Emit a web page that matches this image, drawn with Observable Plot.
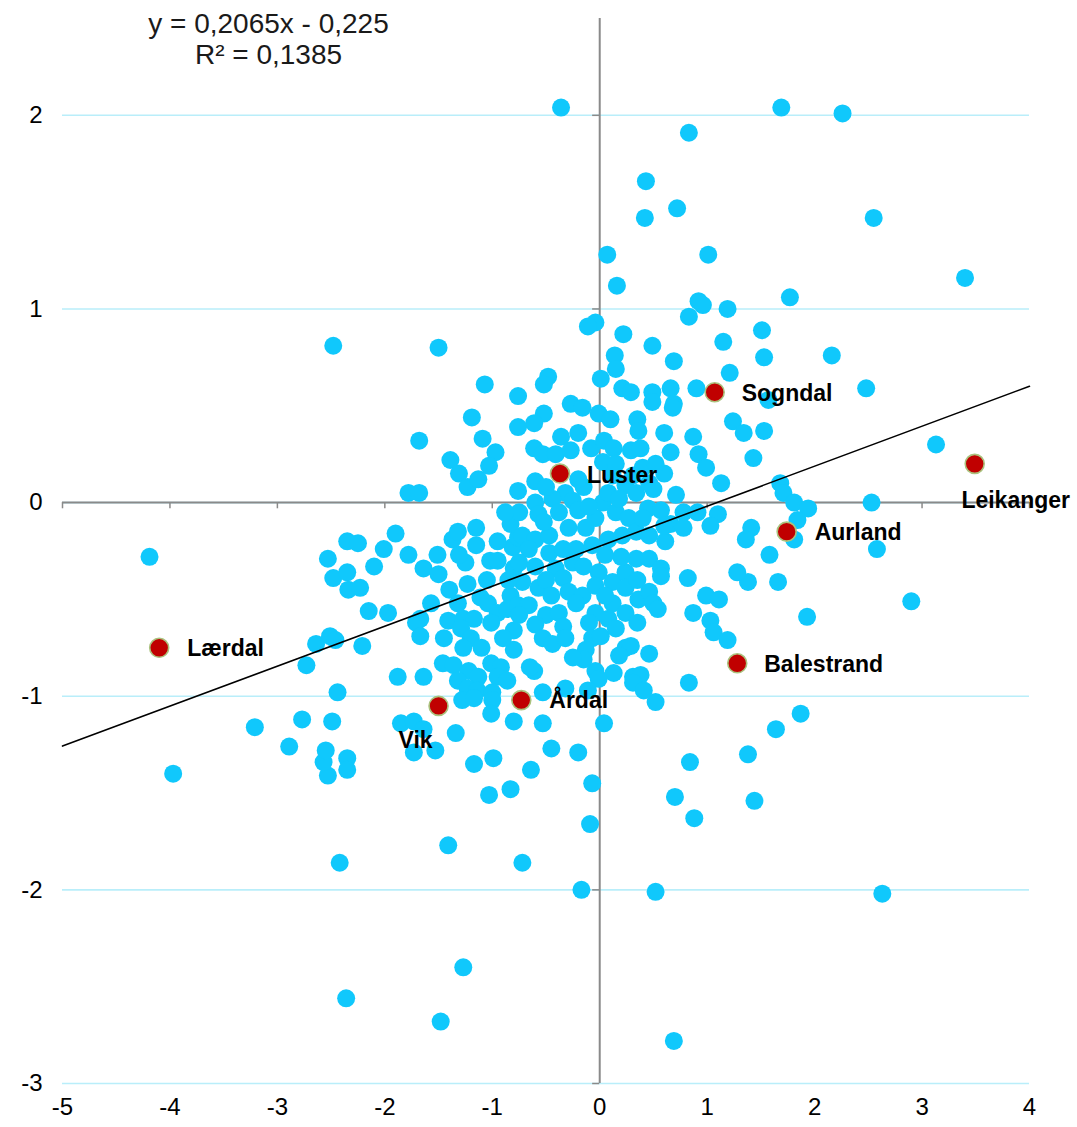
<!DOCTYPE html>
<html>
<head>
<meta charset="utf-8">
<script src="https://cdn.jsdelivr.net/npm/d3@7"></script>
<script src="https://cdn.jsdelivr.net/npm/@observablehq/plot@0.6"></script>
<style>
html, body { margin: 0; padding: 0; background: #fff; overflow: hidden; }
#chart svg { display: block; }
</style>
</head>
<body>
<div id="chart"></div>
<script>
// ---- data ----
const otherX = [
  -0.36, 1.69, 2.26, 0.83, 0.43, 0.72, 0.42, 2.55, 0.07, 1.01,
  3.40, 0.16, 1.77, 0.92, 0.96, 1.19, 0.83, -0.04, -0.11, 1.51,
  0.22, 1.15, -2.48, -1.50, 0.49, 0.14, 1.53, 2.16, 0.69, 0.15,
  1.21, -0.48, -0.52, 0.01, -1.07, 2.48, 0.21, 0.29, 0.90, 0.66,
  0.49, -0.76, 0.69, 0.49, 1.57, 0.68, -0.27, -0.16, -0.01, 0.10,
  -0.52, -0.61, -1.19, 0.35, 1.24, 1.34, 1.53, 0.36, -0.76, -0.20,
  -0.36, 0.60, 0.87, -1.09, -0.97, -1.68, 3.13, -0.08, 0.04, 0.13,
  0.29, 0.38, -0.61, -0.53, -0.41, -0.27, 0.66, 0.92, -1.39, -1.31,
  -1.23, -1.13, -1.03, 0.99, 1.43, 1.13, 1.68, 1.71, -1.78, -1.68,
  -0.76, 2.53, 1.81, 1.94, 1.84, 1.81, 1.41, 1.36, 2.58, 1.58,
  1.38, 1.66, 1.28, 0.82, 2.90, 1.93, 0.99, 1.11, 0.87, 1.03,
  1.06, 1.19, 0.83, 0.52, 1.87, 1.64, 1.38, 0.84, 1.44, 0.70,
  0.88, 2.63, 0.52, -0.17, 0.69, -1.48, -2.36, -1.27, -2.42, -1.41,
  -0.72, -0.09, -0.07, -3.97, -4.19, -3.21, -2.89, -2.77, -2.53, -2.57,
  -2.55, -2.35, -2.35, -2.49, -2.44, -2.73, -2.64, -2.51, -2.46, -2.21,
  -2.53, -2.48, -2.35, -2.35, -2.25, -2.34, -2.23, -2.10, -2.15, -2.01,
  -1.90, -1.97, -1.78, -1.64, -1.50, -1.51, -1.37, -1.32, -1.15, -1.15,
  -1.25, -1.31, -1.02, -0.95, -0.81, -0.76, -0.80, -0.83, -1.23, -1.11,
  -1.32, -1.57, -1.67, -1.41, -1.27, -1.17, -1.04, -0.95, -1.01, -0.86,
  -0.76, -0.83, -0.60, -0.32, -0.25, -0.44, -0.60, -0.75, -0.57, -0.38,
  -0.20, -0.04, 0.03, 0.08, 0.03, 0.12, 0.24, 0.34, 0.31, 0.46,
  0.15, 0.27, 0.45, -0.72, -0.60, -0.47, -0.29, -0.13, -0.66, -0.47,
  -0.34, -0.22, -0.07, 0.08, 0.21, 0.34, 0.46, -0.75, -0.60, -0.41,
  -0.25, -0.72, -0.57, -0.34, -0.29, -0.16, -0.01, -0.04, 0.12, 0.24,
  0.34, 0.46, 0.24, 0.36, 0.46, -0.66, -0.50, -0.38, -0.22, -0.04,
  0.12, 0.24, 0.08, -0.10, -0.75, 0.60, 0.50, 0.71, 0.57, 0.78,
  0.91, 1.10, 0.66, 0.78, 1.03, 0.61, 0.57, 0.57, 0.50, 0.54,
  -1.71, -1.67, -1.29, -1.20, -1.27, -0.80, -0.80, -1.88, -1.64, -1.46,
  -1.36, -1.22, -1.13, -1.32, -1.23, -1.14, -1.28, -1.17, -1.01, -0.92,
  -0.95, -0.86, -1.00, -1.00, -1.01, -0.80, -1.85, -1.73, -1.64, -1.34,
  -1.73, -1.53, -1.17, -0.99, -1.03, -0.83, -0.60, -0.34, -0.53, -0.44,
  -0.32, -0.07, 0.01, -0.13, -0.15, 0.24, 0.29, 0.18, 0.46, -0.61,
  -0.04, 0.13, -0.01, 0.31, 0.38, 0.31, 0.41, -0.53, -0.32, -0.11,
  -0.53, 0.04, -0.45, -0.20, -0.64,
  -0.50, -0.15, 0.18, 0.40, -0.52, -0.10, 0.15, 0.40, 0.20, -0.15,
  -0.50, 0.05, -0.85, -0.45, 0.05, 0.35, -0.88, -0.95, 0.52, -1.05,
  -1.40, -1.45, -1.10, -0.65, 0.15, -0.25, 0.35, -0.20, 0.60, -0.90
];
const otherY = [
  2.04, 2.04, 2.01, 1.91, 1.66, 1.52, 1.47, 1.47, 1.28, 1.28,
  1.16, 1.12, 1.06, 1.04, 1.02, 1.00, 0.96, 0.93, 0.91, 0.89,
  0.87, 0.83, 0.81, 0.80, 0.81, 0.76, 0.75, 0.76, 0.73, 0.69,
  0.67, 0.65, 0.61, 0.64, 0.61, 0.59, 0.59, 0.57, 0.59, 0.59,
  0.57, 0.55, 0.51, 0.52, 0.53, 0.49, 0.51, 0.49, 0.46, 0.43,
  0.46, 0.41, 0.44, 0.43, 0.42, 0.36, 0.37, 0.37, 0.39, 0.36,
  0.34, 0.36, 0.34, 0.33, 0.26, 0.32, 0.30, 0.28, 0.32, 0.28,
  0.27, 0.28, 0.28, 0.25, 0.25, 0.27, 0.26, 0.25, 0.22, 0.15,
  0.08, 0.12, 0.19, 0.18, 0.23, 0.10, 0.10, 0.05, 0.05, 0.05,
  0.06, 0.00, 0.00, -0.03, -0.09, -0.19, -0.13, -0.19, -0.24, -0.27,
  -0.41, -0.41, -0.36, -0.39, -0.51, -0.59, -0.48, -0.50, -0.57, -0.61,
  -0.67, -0.71, -0.93, -1.03, -1.09, -1.17, -1.30, -1.34, -1.54, -1.52,
  -1.63, -2.02, -2.01, -2.00, -2.78, -2.68, -2.56, -2.40, -1.86, -1.77,
  -1.86, -1.66, -1.45, -1.40, -0.28, -1.16, -1.26, -1.12, -1.41, -1.34,
  -1.28, -1.32, -1.38, -1.13, -0.98, -0.84, -0.73, -0.69, -0.71, -0.74,
  -0.29, -0.39, -0.36, -0.20, -0.21, -0.45, -0.44, -0.33, -0.56, -0.24,
  -0.16, -0.57, -0.27, -0.34, -0.37, -0.27, -0.19, -0.15, -0.13, -0.22,
  -0.31, -0.27, -0.30, -0.30, -0.23, -0.18, -0.34, -0.48, -0.42, -0.49,
  -0.52, -0.52, -0.60, -0.61, -0.60, -0.60, -0.52, -0.57, -0.62, -0.55,
  -0.53, -0.11, 0.11, 0.05, 0.01, 0.02, 0.00, -0.05, -0.06, -0.05,
  -0.04, -0.08, 0.00, 0.05, 0.21, 0.14, 0.09, 0.05, 0.14, 0.10,
  -0.05, -0.08, -0.03, -0.17, -0.19, -0.17, -0.13, -0.13, -0.24, -0.26,
  -0.24, -0.24, -0.22, -0.19, -0.17, -0.15, -0.17, -0.31, -0.33, -0.34,
  -0.31, -0.41, -0.44, -0.39, -0.46, -0.48, -0.36, -0.43, -0.41, -0.36,
  -0.29, -0.29, -0.44, -0.50, -0.46, -0.53, -0.58, -0.57, -0.52, -0.57,
  -0.52, -0.57, -0.60, -0.62, -0.58, 0.15, 0.07, 0.04, -0.04, -0.05,
  -0.05, -0.06, -0.11, -0.13, -0.12, -0.20, -0.34, -0.38, -0.52, -0.55,
  -0.62, -0.69, -0.65, -0.70, -0.75, -0.66, -0.76, -0.90, -0.90, -0.83,
  -0.84, -0.87, -0.90, -0.92, -0.96, -0.97, -1.02, -1.01, -0.83, -0.85,
  -0.90, -0.92, -0.98, -1.02, -1.09, -1.13, -1.14, -1.13, -1.17, -1.19,
  -1.29, -1.28, -1.35, -1.32, -1.51, -1.48, -0.63, -0.64, -0.70, -0.73,
  -0.70, -0.70, -0.69, -0.76, -0.81, -0.75, -0.74, -0.79, -0.78, -0.87,
  -0.87, -0.88, -0.91, -0.90, -0.89, -0.93, -0.97, -0.98, -0.96, -0.97,
  -1.14, -1.14, -1.27, -1.29, -1.38,
  0.08, 0.08, 0.02, -0.08, -0.10, -0.02, 0.20, 0.18, -0.28, -0.33,
  -0.40, -0.27, -0.40, -0.48, -0.48, -0.40, -0.05, -0.20, 0.20, -0.40,
  -0.45, -0.70, -0.75, -0.85, -0.65, -0.80, -0.62, 0.12, -0.12, -0.70
];
const namedLabels = ["Sogndal", "Luster", "Leikanger", "Aurland", "Lærdal", "Balestrand", "Årdal", "Vik"];
const namedX = [1.07, -0.37, 3.49, 1.74, -4.10, 1.28, -0.73, -1.50];
const namedY = [0.57, 0.15, 0.20, -0.15, -0.75, -0.83, -1.02, -1.05];
const xTicks = [-5, -4, -3, -2, -1, 0, 1, 2, 3, 4];
const yTicks = [-3, -2, -1, 0, 1, 2];
const trendSlope = 0.2065;
const trendIntercept = -0.225;
const trendXRange = [-5, 4];
const equationLines = ["y = 0,2065x - 0,225", "R\u00B2 = 0,1385"];

// ---- styles (kept apart from the data) ----
const FONT = "Liberation Sans, Arial, Helvetica, sans-serif";
const labelPlacement = {
  "Sogndal":   {dx: 27, dy: 1, anchor: "start"},
  "Luster":    {dx: 27, dy: 2, anchor: "start"},
  "Leikanger": {dx: 41, dy: 37, anchor: "middle"},
  "Aurland":   {dx: 28, dy: 1, anchor: "start"},
  "Lærdal":    {dx: 28, dy: 1, anchor: "start"},
  "Balestrand":{dx: 27, dy: 1, anchor: "start"},
  "Årdal":     {dx: 28, dy: 1, anchor: "start"},
  "Vik":       {dx: -23, dy: 35, anchor: "middle"}
};

const otherIdx = d3.range(otherX.length);

const chart = Plot.plot({
  width: 1077,
  height: 1127,
  marginLeft: 62,
  marginRight: 48,
  marginTop: 18,
  marginBottom: 44,
  style: {fontFamily: FONT, background: "#fff"},
  x: {domain: [-5, 4], axis: null},
  y: {domain: [-3, 2.5], axis: null},
  marks: [
    Plot.ruleY(yTicks, {y: d => d, stroke: "#b9eefa", strokeWidth: 1.6}),
    Plot.ruleY([0], {stroke: "#8a8a8a", strokeWidth: 2}),
    Plot.ruleX([0], {stroke: "#8a8a8a", strokeWidth: 2}),
    Plot.ruleX(xTicks, {x: d => d, y1: 0, y2: -0.032, stroke: "#8a8a8a", strokeWidth: 1.5}),
    Plot.ruleY(yTicks, {y: d => d, x1: -0.066, x2: 0, stroke: "#8a8a8a", strokeWidth: 1.5}),
    Plot.text(xTicks, {x: d => d, text: d => String(d), frameAnchor: "bottom", dy: 31,
      fontSize: 24, fill: "#000", fontFamily: FONT}),
    Plot.text(yTicks, {y: d => d, text: d => String(d), frameAnchor: "left", dx: -20,
      textAnchor: "end", fontSize: 24, fill: "#000", fontFamily: FONT}),
    Plot.dot(otherIdx, {x: i => otherX[i], y: i => otherY[i], r: 9, fill: "#10c8fc"}),
    Plot.line(trendXRange, {x: d => d, y: d => trendSlope * d + trendIntercept,
      stroke: "#000", strokeWidth: 1.6}),
    Plot.dot(d3.range(namedX.length), {x: i => namedX[i], y: i => namedY[i], r: 9.5,
      fill: "#c00000", stroke: "#aac27e", strokeWidth: 1.6}),
    ...namedLabels.map((name, i) => Plot.text([i], {
      x: j => namedX[j], y: j => namedY[j], text: j => namedLabels[j],
      dx: labelPlacement[name].dx, dy: labelPlacement[name].dy,
      textAnchor: labelPlacement[name].anchor,
      fontSize: 23, fontWeight: "bold", fill: "#000", fontFamily: FONT
    })),
    Plot.text([equationLines[0]], {text: d => d, frameAnchor: "top-left", dx: 206, dy: 6,
      textAnchor: "middle", lineAnchor: "middle", fontSize: 28, fill: "#1a1a1a", fontFamily: FONT}),
    Plot.text([equationLines[1]], {text: d => d, frameAnchor: "top-left", dx: 206, dy: 37,
      textAnchor: "middle", lineAnchor: "middle", fontSize: 28, fill: "#1a1a1a", fontFamily: FONT})
  ]
});

document.getElementById("chart").appendChild(chart);
</script>
</body>
</html>
